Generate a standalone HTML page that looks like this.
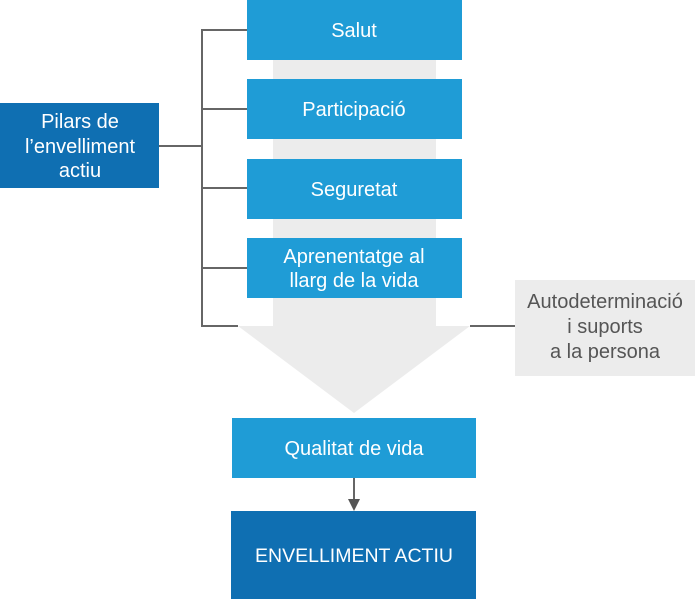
<!DOCTYPE html>
<html><head><meta charset="utf-8"><style>
html,body{margin:0;padding:0;background:#fff;}
svg{display:block;}
text{font-family:"Liberation Sans",sans-serif;}
</style></head><body>
<svg width="695" height="599" viewBox="0 0 695 599" xmlns="http://www.w3.org/2000/svg">
<rect x="0" y="0" width="695" height="599" fill="#fff"/>
<polygon points="273,59 436,59 436,326 470,326 354,413 238,326 273,326" fill="#ececec"/>
<g stroke="#666" stroke-width="2" fill="none">
<polyline points="247,30 202,30 202,326 238,326"/>
<line x1="202" y1="109" x2="247" y2="109"/>
<line x1="202" y1="188" x2="247" y2="188"/>
<line x1="202" y1="268" x2="247" y2="268"/>
<line x1="159" y1="146" x2="202" y2="146"/>
<line x1="470" y1="326" x2="515" y2="326"/>
<line x1="354" y1="478" x2="354" y2="500"/>
</g>
<polygon points="348,499 360,499 354,511" fill="#555"/>
<rect x="0" y="103" width="159" height="85" fill="#0f6fb2"/>
<g fill="#fff" font-size="20" text-anchor="middle">
<text x="80" y="128">Pilars de</text>
<text x="80" y="153">l’envelliment</text>
<text x="80" y="177">actiu</text>
</g>
<g fill="#1f9cd6">
<rect x="247" y="0" width="215" height="60"/>
<rect x="247" y="79" width="215" height="60"/>
<rect x="247" y="159" width="215" height="60"/>
<rect x="247" y="238" width="215" height="60"/>
<rect x="232" y="418" width="244" height="60"/>
</g>
<g fill="#fff" font-size="20" text-anchor="middle">
<text x="354" y="37">Salut</text>
<text x="354" y="116">Participació</text>
<text x="354" y="196">Seguretat</text>
<text x="354" y="263">Aprenentatge al</text>
<text x="354" y="287">llarg de la vida</text>
<text x="354" y="455">Qualitat de vida</text>
</g>
<rect x="515" y="280" width="180" height="96" fill="#ececec"/>
<g fill="#555" font-size="20" text-anchor="middle">
<text x="605" y="308">Autodeterminació</text>
<text x="605" y="333">i suports</text>
<text x="605" y="358">a la persona</text>
</g>
<rect x="231" y="511" width="245" height="88" fill="#0f6fb2"/>
<text x="354" y="562" fill="#fff" font-size="19.5" text-anchor="middle">ENVELLIMENT ACTIU</text>
</svg>
</body></html>
